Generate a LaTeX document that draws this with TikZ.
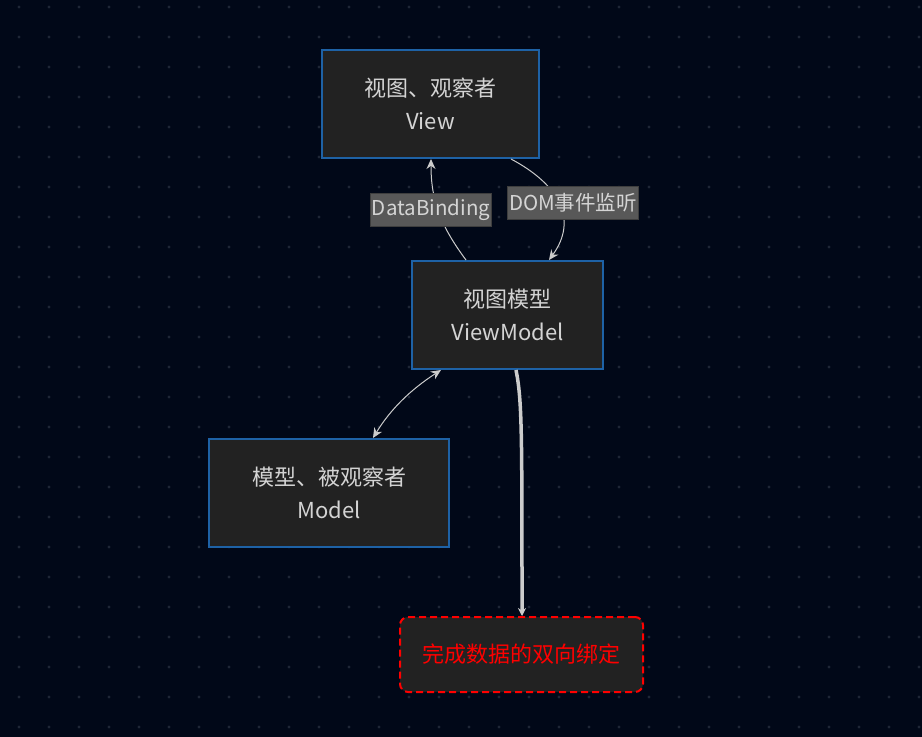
\documentclass[tikz,border=0pt]{standalone}
\usepackage{fontspec}
\setmainfont{Noto Sans CJK SC}
\usetikzlibrary{arrows.meta}
\definecolor{bgc}{HTML}{010818}
\definecolor{dotc}{HTML}{1E2636}
\definecolor{nodefill}{HTML}{222222}
\definecolor{nodeborder}{HTML}{1E62A6}
\definecolor{txt}{HTML}{D4D4D4}
\definecolor{edgec}{HTML}{CCCCCC}
\definecolor{lblfill}{HTML}{585858}
\definecolor{redc}{HTML}{FF0000}
\tikzset{
  box/.style={draw=nodeborder, fill=nodefill, line width=2pt, inner sep=0pt,
    align=center, text=txt, font=\fontsize{22}{33}\selectfont},
  finalbox/.style={draw=redc, fill=nodefill, line width=2pt, dash pattern=on 7pt off 4pt,
    rounded corners=8pt, inner sep=0pt, text=redc, font=\fontsize{22}{33}\selectfont},
  edge/.style={draw=edgec, line width=1pt, -{Stealth[length=10pt,width=9pt]}},
  lbl/.style={fill=lblfill, draw=lblfill!70!black, text=txt, inner xsep=1.5pt, inner ysep=2pt,
    font=\fontsize{20.5}{24}\selectfont, minimum height=33pt}
}
\begin{document}
\begin{tikzpicture}[x=1pt,y=-1pt]
\useasboundingbox (0,0) rectangle (922,737);
\fill[bgc] (0,0) rectangle (922,737);
\foreach \i in {0,...,30} {
  \foreach \j in {0,...,24} {
    \fill[dotc] (19+30*\i, 7+30*\j) circle (1.6pt);
  }
}
\node[box, minimum width=217pt, minimum height=108pt] (view) at (430.5,104) {视图、观察者\\View};
\node[box, minimum width=191pt, minimum height=108pt] (vm) at (507.5,315) {视图模型\\ViewModel};
\node[box, minimum width=240pt, minimum height=108pt] (model) at (329,493) {模型、被观察者\\Model};
\node[finalbox, minimum width=243pt, minimum height=75pt] (fin) at (521.5,654.5) {完成数据的双向绑定};

\draw[edge] ([xshift=-41.5pt]vm.north) .. controls (440,225) and (431,200) .. ([xshift=0.5pt]view.south);
\draw[edge] ([xshift=80.5pt]view.south) .. controls (560,185) and (578,220) .. ([xshift=41.5pt]vm.north);
\draw[edge, {Stealth[length=10pt,width=9pt]}-{Stealth[length=10pt,width=9pt]}] ([xshift=-66.5pt]vm.south) .. controls (410,390) and (390,410) .. ([xshift=44pt]model.north);
\draw[edge, line width=3.5pt, -{Stealth[length=8pt,width=8pt]}] ([xshift=8.5pt]vm.south) .. controls (522,400) and (522,430) .. ([xshift=0.5pt]fin.north);

\node[lbl] (l1) at (431,209.5) {DataBinding};
\node[lbl] (l2) at (573,202.5) {DOM事件监听};
\end{tikzpicture}
\end{document}
